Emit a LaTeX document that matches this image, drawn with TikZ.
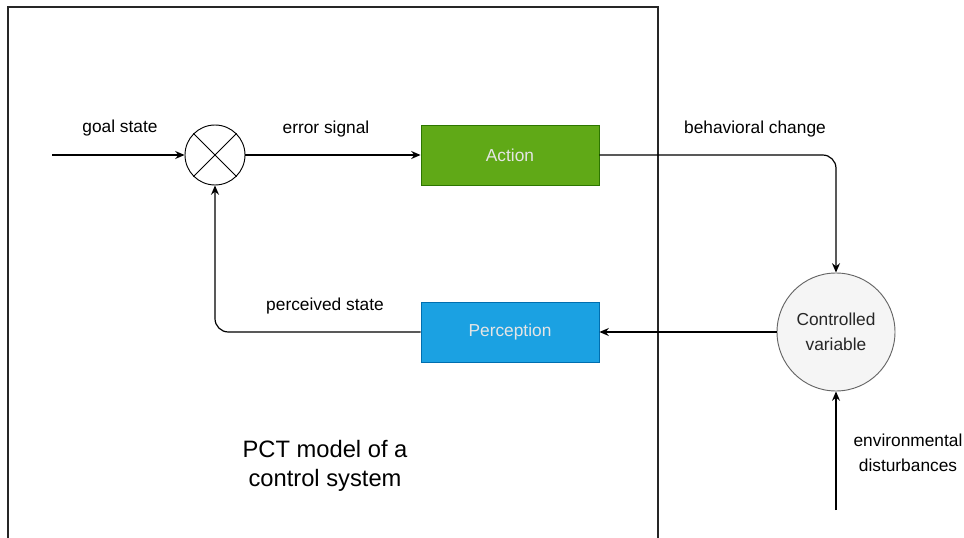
\documentclass[tikz,border=0pt]{standalone}
\usepackage{fontspec}
\setmainfont{Liberation Sans}
\usetikzlibrary{arrows.meta}
\definecolor{actfill}{HTML}{60A917}
\definecolor{actline}{HTML}{2D7600}
\definecolor{percfill}{HTML}{1BA1E2}
\definecolor{percline}{HTML}{006EAF}
\definecolor{cvfill}{HTML}{F5F5F5}
\definecolor{cvline}{HTML}{666666}
\begin{document}
\begin{tikzpicture}[x=0.75pt, y=-0.75pt, >={Stealth[length=7pt, width=6pt]}, line width=0.9pt,
		every node/.style={font=\fontsize{13}{15.5}\selectfont},
		lbl/.style={inner sep=1pt},
		block/.style={draw, line width=0.7pt, minimum width=133.5pt, minimum height=45pt, text=white!90!black},
		sumnode/.style={draw, circle, line width=0.7pt, minimum size=45pt, inner sep=0pt},
		cvnode/.style={draw=cvline, fill=cvfill, circle, line width=0.7pt, minimum size=88.5pt, inner sep=0pt, align=center, text=black!85}]
	\useasboundingbox (0,0) rectangle (964,538);
	
	% ------------------ frame of the control system ------------------
	\draw[line width=1pt, black!85] (8,538) -- (8,7) -- (658,7) -- (658,538);
	
	% ------------------ blocks ------------------
	\node[sumnode] (sum) at (215,155) {};
	\draw[line width=0.7pt] (sum.45) -- (sum.225);
	\draw[line width=0.7pt] (sum.135) -- (sum.315);
	
	\node[block, fill=actfill, draw=actline] (act) at (510,155) {Action};
	\node[block, fill=percfill, draw=percline] (perc) at (510,332) {Perception};
	\node[cvnode] (cv) at (836,332) {Controlled\\[3pt]variable};
	
	\coordinate (goal) at (52,155);
	\coordinate (dist) at (836,510);
	
	% ------------------ connectors ------------------
	\draw[->] (goal) -- (sum);
	\draw[->] (sum) -- (act);
	\draw[->, rounded corners=10] (act.east) -| (cv.north);
	\draw[->] (cv) -- (perc);
	\draw[->, rounded corners=10] (perc.west) -| (sum.south);
	\draw[->] (dist) -- (cv.south);
	
	% ------------------ labels ------------------
	\node[lbl] (goallbl) at (120,128) {goal state};
	\node[lbl] (errlbl) at (326,129) {error signal};
	\node[lbl] (behlbl) at (755,129) {behavioral change};
	\node[lbl] (perclbl) at (325,306) {perceived state};
	\node[lbl, align=center] (distlbl) at (908,453) {environmental\\[3pt]disturbances};
	\node[lbl, align=center, font=\fontsize{17.8}{22}\selectfont] (pctlbl) at (325,466) {PCT model of a\\control system};
\end{tikzpicture}
\end{document}
